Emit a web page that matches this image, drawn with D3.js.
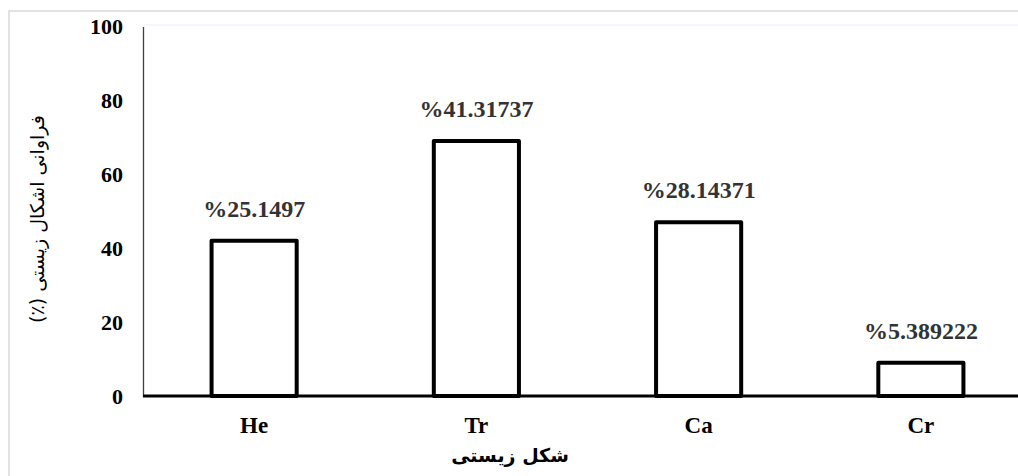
<!DOCTYPE html>
<html>
<head>
<meta charset="utf-8">
<script src="https://cdn.jsdelivr.net/npm/d3@7"></script>
<style>
  html, body { margin: 0; padding: 0; background: #fff; overflow: hidden; }
  svg { display: block; }
</style>
</head>
<body>
<svg id="chart" width="1018" height="476"></svg>
<script>
// Data
const categories = ["He", "Tr", "Ca", "Cr"];
const counts = [42, 69, 47, 9];
const valueLabels = ["%25.1497", "%41.31737", "%28.14371", "%5.389222"];
const yTicks = [0, 20, 40, 60, 80, 100];
const xTitle = "شکل زیستی";
const yTitle = "فراوانی اشکال زیستی (٪)";

const svg = d3.select("#chart");
const W = 1018, H = 476;
const plot = { left: 143, right: 1032, top: 26.5, bottom: 396 };
const serif = "'Liberation Serif', 'Times New Roman', serif";

// chart frame
svg.append("rect")
  .attr("x", 9).attr("y", 11)
  .attr("width", W + 20).attr("height", H + 20)
  .attr("fill", "#fff")
  .attr("stroke", "#d9d9d9").attr("stroke-width", 1.5);

// faint plot area border
svg.append("line")
  .attr("x1", plot.left).attr("x2", W)
  .attr("y1", 25).attr("y2", 25)
  .attr("stroke", "#f1f5fa").attr("stroke-width", 1.5);

const x = d3.scaleBand()
  .domain(categories)
  .range([plot.left, plot.right])
  .paddingInner(0.617)
  .paddingOuter(0.3085);

const y = d3.scaleLinear()
  .domain([0, 100])
  .range([plot.bottom, plot.top]);

// y axis
const yAxis = svg.append("g")
  .attr("transform", `translate(${plot.left},0)`)
  .call(d3.axisLeft(y).tickValues(yTicks).tickSize(0).tickPadding(20));
yAxis.select(".domain").attr("stroke", "#404040").attr("stroke-width", 1.3);
yAxis.selectAll("text")
  .attr("font-family", serif)
  .attr("font-weight", "bold")
  .attr("font-size", 22)
  .attr("fill", "#000");

// bars
svg.append("g").selectAll("rect")
  .data(categories)
  .join("rect")
  .attr("x", d => x(d))
  .attr("y", (d, i) => y(counts[i]))
  .attr("width", x.bandwidth())
  .attr("height", (d, i) => y(0) - y(counts[i]))
  .attr("fill", "#fff")
  .attr("stroke", "#000")
  .attr("stroke-width", 4)
  .attr("stroke-linejoin", "round");

// x axis line
svg.append("line")
  .attr("x1", plot.left).attr("x2", W)
  .attr("y1", y(0)).attr("y2", y(0))
  .attr("stroke", "#000").attr("stroke-width", 3);

// category labels
const xAxis = svg.append("g")
  .attr("transform", `translate(0,${y(0)})`)
  .call(d3.axisBottom(x).tickSize(0).tickPadding(21));
xAxis.select(".domain").remove();
xAxis.selectAll("text")
  .attr("font-family", serif)
  .attr("font-weight", "bold")
  .attr("font-size", 23)
  .attr("fill", "#000");

// value labels
svg.append("g").selectAll("text")
  .data(categories)
  .join("text")
  .attr("x", d => x(d) + x.bandwidth() / 2)
  .attr("y", (d, i) => y(counts[i]) - 24)
  .attr("text-anchor", "middle")
  .attr("font-family", serif)
  .attr("font-weight", "bold")
  .attr("font-size", 24)
  .attr("fill", "#333")
  .text((d, i) => valueLabels[i]);

// x title
svg.append("text")
  .attr("x", 510).attr("y", 462)
  .attr("text-anchor", "middle")
  .attr("direction", "rtl")
  .attr("font-family", "'DejaVu Sans', sans-serif")
  .attr("font-weight", "bold")
  .attr("font-size", 19)
  .attr("fill", "#000")
  .text(xTitle);

// y title
svg.append("text")
  .attr("transform", "translate(44,219) rotate(-90)")
  .attr("text-anchor", "middle")
  .attr("direction", "rtl")
  .attr("font-family", "'DejaVu Sans', sans-serif")
  .attr("font-size", 19)
  .attr("fill", "#000")
  .text(yTitle);
</script>
</body>
</html>
